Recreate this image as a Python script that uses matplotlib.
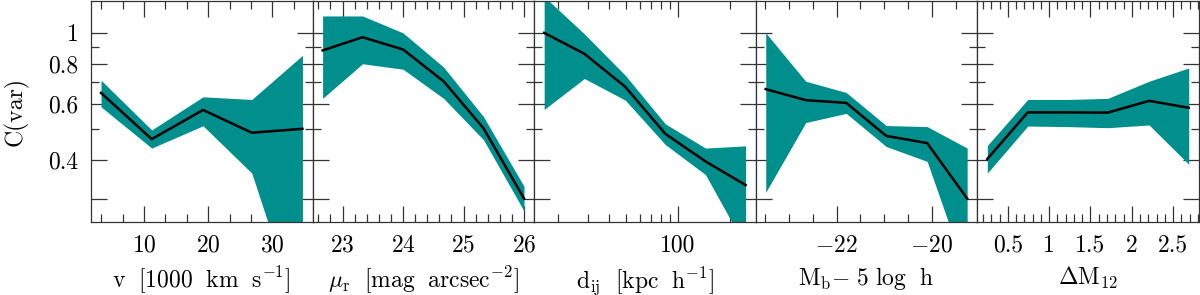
import numpy as np
import matplotlib
matplotlib.use("Agg")
from matplotlib import pyplot as plt
from matplotlib import ticker

plt.rcParams['font.family'] = ['cmr10', 'DejaVu Serif']
plt.rcParams['mathtext.fontset'] = 'cm'
plt.rcParams['axes.formatter.use_mathtext'] = True
plt.rcParams['axes.unicode_minus'] = True

teal = '#008f8c'

# panel 1: velocity
v_x = [3.3, 11.2, 19.2, 26.8, 34.7]
v_mid = [0.648, 0.464, 0.573, 0.486, 0.500]
v_hi = [0.710, 0.496, 0.630, 0.618, 0.850]
v_lo = [0.586, 0.435, 0.511, 0.363, 0.119]

# panel 2: surface brightness
mu_x = [22.67, 23.33, 24.0, 24.67, 25.33, 26.0]
mu_mid = [0.881, 0.969, 0.887, 0.705, 0.502, 0.302]
mu_hi = [1.13, 1.13, 1.00, 0.781, 0.546, 0.330]
mu_lo = [0.623, 0.800, 0.769, 0.623, 0.462, 0.276]

# panel 3: separation (log x)
d_x = [16.7, 28.6, 49.5, 84.7, 145.0, 248.0]
d_mid = [1.00, 0.860, 0.677, 0.482, 0.395, 0.333]
d_hi = [1.30, 0.993, 0.736, 0.518, 0.435, 0.442]
d_lo = [0.575, 0.719, 0.615, 0.446, 0.359, 0.213]

# panel 4: magnitude
m_x = [-23.49, -22.65, -21.80, -20.96, -20.10, -19.26]
m_mid = [0.666, 0.615, 0.603, 0.475, 0.451, 0.302]
m_hi = [1.00, 0.705, 0.650, 0.512, 0.508, 0.435]
m_lo = [0.316, 0.523, 0.559, 0.440, 0.395, 0.173]

# panel 5: magnitude gap
g_x = [0.25, 0.74, 1.22, 1.71, 2.21, 2.69]
g_mid = [0.402, 0.563, 0.563, 0.562, 0.612, 0.582]
g_hi = [0.443, 0.618, 0.618, 0.623, 0.705, 0.776]
g_lo = [0.363, 0.510, 0.508, 0.504, 0.514, 0.387]

panels = [
    (v_x, v_mid, v_hi, v_lo, r'$\mathrm{v\ \ [1000\ \ km\ \ s^{-1}]}$'),
    (mu_x, mu_mid, mu_hi, mu_lo, r'$\mu_\mathrm{r}\ \ \mathrm{[mag\ \ arcsec^{-2}]}$'),
    (d_x, d_mid, d_hi, d_lo, r'$\mathrm{d_{ij}\ \ [kpc\ \ h^{-1}]}$'),
    (m_x, m_mid, m_hi, m_lo, r'$\mathrm{M_b{-}\ 5\ log\ \ h}$'),
    (g_x, g_mid, g_hi, g_lo, r'$\Delta\mathrm{M_{12}}$'),
]

fig, axes = plt.subplots(1, 5, figsize=(12, 2.95), dpi=100, sharey=True)
fig.subplots_adjust(left=0.0758, right=0.999, top=0.997, bottom=0.2475, wspace=0)

for i, (ax, (x, mid, hi, lo, lab)) in enumerate(zip(axes, panels)):
    ax.fill_between(x, lo, hi, color=teal, lw=0, zorder=3)
    ax.plot(x, mid, color='k', lw=1.8, zorder=4)
    ax.set_xlabel(lab, fontsize=17, labelpad=6)
    for s in ax.spines.values():
        s.set_linewidth(0.9)
        s.set_color('#333333')
        s.set_zorder(5)
    ax.tick_params(which='both', direction='in', top=True, right=True,
                   color='#333333', width=0.9, labelsize=17, pad=9)
    ax.tick_params(which='major', length=11.5)
    ax.tick_params(which='minor', length=5.5)

axes[0].set_yscale('log')
axes[0].set_ylim(0.255, 1.26)
axes[0].yaxis.set_major_locator(ticker.FixedLocator([0.3, 0.4, 0.6, 0.8, 1.0]))
axes[0].yaxis.set_major_formatter(ticker.FixedFormatter(['', '0.4', '0.6', '0.8', '1']))
axes[0].yaxis.set_minor_locator(ticker.FixedLocator([0.5, 0.7, 0.9]))
axes[0].yaxis.set_minor_formatter(ticker.NullFormatter())
axes[0].set_ylabel('C(var)', fontsize=17, labelpad=14)

axes[0].xaxis.set_major_locator(ticker.MultipleLocator(10))
axes[0].xaxis.set_minor_locator(ticker.MultipleLocator(10 / 3))
axes[1].xaxis.set_major_locator(ticker.MultipleLocator(1))
axes[1].xaxis.set_minor_locator(ticker.MultipleLocator(0.2))
axes[2].set_xscale('log')
axes[2].xaxis.set_major_locator(ticker.FixedLocator([100]))
axes[2].xaxis.set_major_formatter(ticker.FuncFormatter(lambda val, pos: '%d' % val))
axes[2].xaxis.set_minor_locator(ticker.LogLocator(subs=np.arange(2, 10)))
axes[2].xaxis.set_minor_formatter(ticker.NullFormatter())
axes[3].xaxis.set_major_locator(ticker.MultipleLocator(2))
axes[3].xaxis.set_minor_locator(ticker.MultipleLocator(0.5))
axes[4].xaxis.set_major_locator(ticker.MultipleLocator(0.5))
axes[4].xaxis.set_minor_locator(ticker.MultipleLocator(0.1))
axes[4].xaxis.set_major_formatter(ticker.FuncFormatter(lambda val, pos: '%g' % val))

for ax in axes[1:]:
    ax.tick_params(axis='y', labelleft=False)

plt.savefig('out.png', dpi=100)
